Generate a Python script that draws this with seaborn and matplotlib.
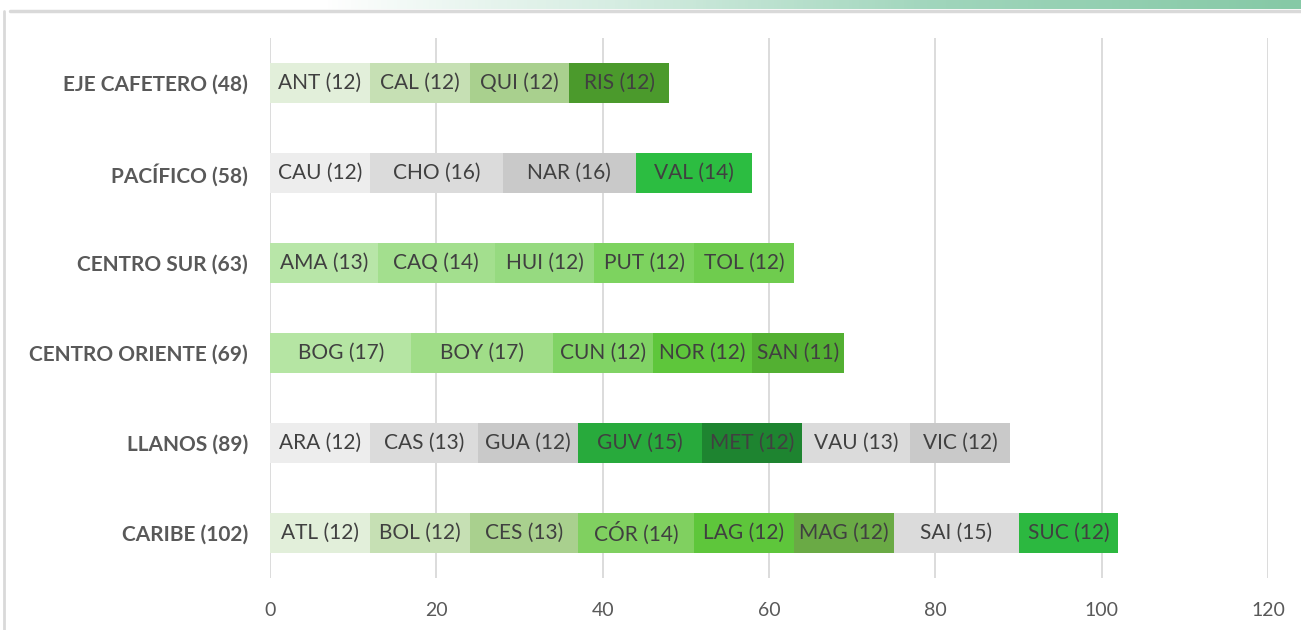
import numpy as np
import pandas as pd
import matplotlib
matplotlib.use("Agg")
import matplotlib.pyplot as plt
import seaborn as sns
from matplotlib.colors import LinearSegmentedColormap

# regions (top to bottom) and their departments
regions = ["EJE CAFETERO (48)", "PACÍFICO (58)", "CENTRO SUR (63)",
           "CENTRO ORIENTE (69)", "LLANOS (89)", "CARIBE (102)"]

eje_codes = ["ANT", "CAL", "QUI", "RIS"]
eje_vals = [12, 12, 12, 12]
pac_codes = ["CAU", "CHO", "NAR", "VAL"]
pac_vals = [12, 16, 16, 14]
csur_codes = ["AMA", "CAQ", "HUI", "PUT", "TOL"]
csur_vals = [13, 14, 12, 12, 12]
cori_codes = ["BOG", "BOY", "CUN", "NOR", "SAN"]
cori_vals = [17, 17, 12, 12, 11]
lla_codes = ["ARA", "CAS", "GUA", "GUV", "MET", "VAU", "VIC"]
lla_vals = [12, 13, 12, 15, 12, 13, 12]
car_codes = ["ATL", "BOL", "CES", "CÓR", "LAG", "MAG", "SAI", "SUC"]
car_vals = [12, 12, 13, 14, 12, 12, 15, 12]

# segment colours
eje_cols = ["#e2efda", "#c6e0b4", "#a9d08e", "#4b9a2c"]
pac_cols = ["#ededed", "#dbdbdb", "#c9c9c9", "#2cbd41"]
csur_cols = ["#b8e6a8", "#a3df8e", "#96da80", "#7dd35f", "#6fcc4e"]
cori_cols = ["#b5e5a3", "#a0dd88", "#81d365", "#5ec63b", "#53b032"]
lla_cols = ["#ededed", "#dbdbdb", "#c9c9c9", "#28aa3c", "#1e8430", "#dbdbdb", "#c9c9c9"]
car_cols = ["#e2efda", "#c6e0b4", "#a9d08e", "#80d060", "#5ec63b", "#6aaa45", "#dbdbdb", "#2cb840"]

codes = [eje_codes, pac_codes, csur_codes, cori_codes, lla_codes, car_codes]
vals = [eje_vals, pac_vals, csur_vals, cori_vals, lla_vals, car_vals]
cols = [eje_cols, pac_cols, csur_cols, cori_cols, lla_cols, car_cols]

sns.set_style("white")
plt.rcParams["font.family"] = ["Lato", "DejaVu Sans"]

fig = plt.figure(figsize=(13.01, 6.3), dpi=100)

# decorative top band + frame
band = fig.add_axes([0, 1 - 9 / 630, 1, 9 / 630])
grad = np.linspace(0, 1, 400)
grad = np.clip((grad - 0.25) / 0.75, 0, 1) ** 0.9
cmap = LinearSegmentedColormap.from_list("band", ["#ffffff", "#d6ede2", "#9fd5bb", "#86c9a6"])
band.imshow(grad[None, :], aspect="auto", cmap=cmap, vmin=0, vmax=1)
band.axis("off")
fig.add_artist(plt.Line2D([0.008, 1], [1 - 10.5 / 630] * 2, color="#d9d9d9", lw=2.5))
fig.add_artist(plt.Line2D([4 / 1301] * 2, [0, 1 - 10.5 / 630], color="#d9d9d9", lw=2))

ax = fig.add_axes([270 / 1301, 52 / 630, 998 / 1301, 540 / 630])

# stacked bars: draw cumulative totals from the last segment backwards
for i, reg in enumerate(regions):
    cum = np.cumsum(vals[i])
    for j in range(len(cum) - 1, -1, -1):
        d = pd.DataFrame({"region": [reg], "total": [cum[j]]})
        sns.barplot(data=d, x="total", y="region", order=regions, orient="h",
                    color=cols[i][j], saturation=1, width=0.44, ax=ax, zorder=3,
                    edgecolor="none", linewidth=0)
        start = cum[j] - vals[i][j]
        ax.text(start + vals[i][j] / 2, i, f"{codes[i][j]} ({vals[i][j]})",
                ha="center", va="center", fontsize=15, color="#404040", zorder=4)

ax.set_xlim(0, 120)
ax.set_ylim(5.5, -0.5)
ax.set_xticks(range(0, 121, 20))
ax.xaxis.grid(True, color="#d9d9d9", lw=1.3, zorder=0)
ax.set_axisbelow(True)
for s in ax.spines.values():
    s.set_visible(False)
ax.set_xlabel("")
ax.set_ylabel("")
ax.tick_params(axis="x", length=0, pad=17, labelsize=14, labelcolor="#595959")
ax.tick_params(axis="y", length=0, pad=16, labelsize=15, labelcolor="#595959")
for t in ax.get_yticklabels():
    t.set_fontweight("bold")

fig.savefig("out.png", dpi=100)
